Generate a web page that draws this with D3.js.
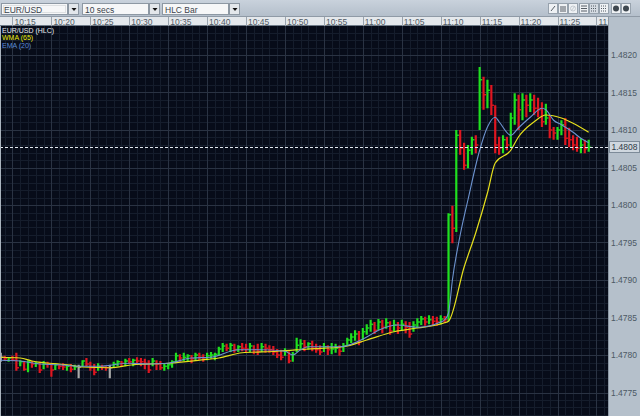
<!DOCTYPE html>
<html>
<head>
<meta charset="utf-8">
<script src="https://cdnjs.cloudflare.com/ajax/libs/d3/7.8.5/d3.min.js"></script>
<style>
  html, body { margin: 0; padding: 0; background: #bcc6d1; overflow: hidden; }
  svg { display: block; font-family: "Liberation Sans", Arial, sans-serif; }
</style>
</head>
<body>
<svg id="chart"></svg>
<script>
'use strict'

// ---- data (30 sec HLC bars) ----
const startTime = '10:13:30'
const barSecs = 30

const highs = [
  1.47803, 1.47799, 1.47797, 1.47799, 1.47803, 1.47793, 1.47792, 1.47793, 1.47792, 1.47791,
  1.47791, 1.47792, 1.47791, 1.47789, 1.47789, 1.47788, 1.47789, 1.47787, 1.47788, 1.47787,
  1.47787, 1.47793, 1.47796, 1.47791, 1.47788, 1.47789, 1.47787, 1.47785, 1.47787, 1.47791,
  1.47793, 1.47792, 1.47795, 1.47796, 1.47795, 1.47797, 1.47796, 1.47795, 1.47793, 1.47796,
  1.47793, 1.47792, 1.47788, 1.47789, 1.47793, 1.47803, 1.47801, 1.47803, 1.47801, 1.47800,
  1.47803, 1.47803, 1.47801, 1.47803, 1.47804, 1.47803, 1.47811, 1.47816, 1.47815, 1.47816,
  1.47815, 1.47813, 1.47816, 1.47815, 1.47816, 1.47813, 1.47815, 1.47816, 1.47815, 1.47813,
  1.47812, 1.47808, 1.47807, 1.47809, 1.47805, 1.47804, 1.47823, 1.47821, 1.47820, 1.47817,
  1.47819, 1.47815, 1.47813, 1.47816, 1.47813, 1.47816, 1.47815, 1.47813, 1.47816, 1.47823,
  1.47829, 1.47833, 1.47832, 1.47836, 1.47841, 1.47847, 1.47844, 1.47848, 1.47847, 1.47849,
  1.47845, 1.47847, 1.47844, 1.47847, 1.47845, 1.47844, 1.47845, 1.47849, 1.47852, 1.47851,
  1.47853, 1.47852, 1.47851, 1.47853, 1.47852, 1.47989, 1.47999, 1.48100, 1.48100, 1.48083,
  1.48080, 1.48091, 1.48093, 1.48184, 1.48171, 1.48167, 1.48160, 1.48133, 1.48091, 1.48093,
  1.48091, 1.48123, 1.48149, 1.48147, 1.48149, 1.48147, 1.48149, 1.48147, 1.48143, 1.48137,
  1.48135, 1.48120, 1.48104, 1.48104, 1.48113, 1.48116, 1.48103, 1.48093, 1.48091, 1.48089,
  1.48087, 1.48087
]
const lows = [
  1.47791, 1.47792, 1.47791, 1.47792, 1.47779, 1.47785, 1.47779, 1.47777, 1.47783, 1.47784,
  1.47776, 1.47781, 1.47783, 1.47771, 1.47780, 1.47781, 1.47780, 1.47779, 1.47777, 1.47780,
  1.47769, 1.47784, 1.47785, 1.47779, 1.47773, 1.47779, 1.47780, 1.47779, 1.47769, 1.47783,
  1.47785, 1.47784, 1.47785, 1.47788, 1.47785, 1.47788, 1.47785, 1.47781, 1.47776, 1.47785,
  1.47780, 1.47780, 1.47779, 1.47781, 1.47783, 1.47789, 1.47791, 1.47792, 1.47791, 1.47789,
  1.47792, 1.47793, 1.47791, 1.47793, 1.47795, 1.47793, 1.47799, 1.47804, 1.47805, 1.47804,
  1.47803, 1.47804, 1.47805, 1.47803, 1.47804, 1.47801, 1.47800, 1.47804, 1.47803, 1.47803,
  1.47800, 1.47796, 1.47793, 1.47799, 1.47789, 1.47791, 1.47804, 1.47807, 1.47805, 1.47807,
  1.47805, 1.47803, 1.47800, 1.47804, 1.47800, 1.47801, 1.47803, 1.47799, 1.47804, 1.47812,
  1.47816, 1.47819, 1.47813, 1.47820, 1.47827, 1.47831, 1.47828, 1.47833, 1.47829, 1.47835,
  1.47827, 1.47831, 1.47828, 1.47832, 1.47829, 1.47823, 1.47831, 1.47836, 1.47840, 1.47839,
  1.47841, 1.47840, 1.47839, 1.47841, 1.47843, 1.47845, 1.47949, 1.47964, 1.48067, 1.48047,
  1.48049, 1.48067, 1.48069, 1.48100, 1.48127, 1.48129, 1.48120, 1.48069, 1.48067, 1.48069,
  1.48073, 1.48077, 1.48107, 1.48100, 1.48113, 1.48117, 1.48124, 1.48120, 1.48117, 1.48104,
  1.48107, 1.48089, 1.48087, 1.48087, 1.48093, 1.48080, 1.48077, 1.48073, 1.48071, 1.48069,
  1.48069, 1.48071
]
const closes = [
  1.47797, 1.47795, 1.47796, 1.47793, 1.47783, 1.47791, 1.47781, 1.47791, 1.47788, 1.47789,
  1.47780, 1.47789, 1.47788, 1.47780, 1.47787, 1.47785, 1.47784, 1.47785, 1.47781, 1.47784,
  1.47784, 1.47792, 1.47788, 1.47783, 1.47777, 1.47785, 1.47784, 1.47783, 1.47783, 1.47788,
  1.47791, 1.47789, 1.47792, 1.47791, 1.47793, 1.47792, 1.47791, 1.47789, 1.47780, 1.47792,
  1.47788, 1.47783, 1.47785, 1.47787, 1.47791, 1.47799, 1.47796, 1.47797, 1.47799, 1.47795,
  1.47800, 1.47797, 1.47796, 1.47799, 1.47800, 1.47801, 1.47808, 1.47812, 1.47809, 1.47813,
  1.47807, 1.47811, 1.47809, 1.47808, 1.47812, 1.47807, 1.47805, 1.47811, 1.47809, 1.47807,
  1.47804, 1.47800, 1.47797, 1.47805, 1.47792, 1.47801, 1.47813, 1.47815, 1.47811, 1.47815,
  1.47809, 1.47807, 1.47804, 1.47811, 1.47807, 1.47808, 1.47809, 1.47805, 1.47812, 1.47820,
  1.47824, 1.47828, 1.47817, 1.47831, 1.47836, 1.47841, 1.47833, 1.47844, 1.47837, 1.47843,
  1.47832, 1.47840, 1.47836, 1.47841, 1.47837, 1.47828, 1.47840, 1.47844, 1.47848, 1.47844,
  1.47847, 1.47845, 1.47844, 1.47848, 1.47847, 1.47987, 1.47969, 1.48093, 1.48076, 1.48053,
  1.48073, 1.48087, 1.48080, 1.48167, 1.48147, 1.48153, 1.48133, 1.48080, 1.48076, 1.48087,
  1.48080, 1.48116, 1.48140, 1.48127, 1.48140, 1.48133, 1.48140, 1.48129, 1.48127, 1.48111,
  1.48116, 1.48100, 1.48096, 1.48100, 1.48107, 1.48089, 1.48087, 1.48080, 1.48076, 1.48080,
  1.48075, 1.48077
]

// indicator lines
const wmaTimes = ['10:13:30', '10:16:00', '10:17:30', '10:22:00', '10:24:00', '10:27:30', '10:30:30',
  '10:35:00', '10:39:00', '10:41:30', '10:44:30', '10:49:00', '10:53:00', '10:57:30', '11:00:30',
  '11:04:00', '11:07:00', '11:10:30', '11:11:00', '11:13:00', '11:14:30', '11:16:00', '11:17:00',
  '11:19:00', '11:20:00', '11:22:00', '11:23:30', '11:25:30', '11:27:00', '11:29:00']
const wmaValues = [1.47797, 1.47796, 1.47792, 1.47787, 1.47784, 1.47783, 1.47787,
  1.47789, 1.47793, 1.47796, 1.47803, 1.47805, 1.47808, 1.47811, 1.47820,
  1.47831, 1.47836, 1.47843, 1.47845, 1.47917, 1.47963, 1.48016, 1.48056,
  1.48073, 1.48091, 1.48111, 1.48120, 1.48116, 1.48109, 1.48097]

const emaTimes = ['10:13:30', '10:16:00', '10:18:30', '10:21:00', '10:23:30', '10:26:00', '10:30:00',
  '10:32:30', '10:35:00', '10:38:00', '10:40:30', '10:44:00', '10:47:00', '10:50:00', '10:51:00',
  '10:52:00', '10:53:00', '10:57:00', '11:00:30', '11:02:00', '11:04:30', '11:07:00', '11:10:00',
  '11:10:30', '11:11:00', '11:11:30', '11:12:30', '11:13:30', '11:15:00', '11:16:00', '11:17:00',
  '11:17:30', '11:19:00', '11:20:00', '11:21:30', '11:23:00', '11:23:30', '11:24:30', '11:25:30',
  '11:27:00', '11:28:00', '11:29:00']
const emaValues = [1.47793, 1.47792, 1.47788, 1.47787, 1.47785, 1.47785, 1.47789,
  1.47788, 1.47789, 1.47796, 1.47797, 1.47807, 1.47807, 1.47805, 1.47800,
  1.47807, 1.47811, 1.47811, 1.47824, 1.47833, 1.47840, 1.47837, 1.47844,
  1.47847, 1.47856, 1.47900, 1.47960, 1.48007, 1.48073, 1.48104, 1.48117,
  1.48111, 1.48093, 1.48103, 1.48117, 1.48129, 1.48127, 1.48113, 1.48107,
  1.48097, 1.48089, 1.48083]

const seriesNames = ['EUR/USD (HLC)', 'WMA (65)', 'EMA (20)']
const timeTicks = ['10:15', '10:20', '10:25', '10:30', '10:35', '10:40', '10:45', '10:50',
  '10:55', '11:00', '11:05', '11:10', '11:15', '11:20', '11:25', '11:30']
const priceTicks = [1.4775, 1.4780, 1.4785, 1.4790, 1.4795, 1.4800, 1.4805, 1.4810, 1.4815, 1.4820]
const comboLabels = ['EUR/USD', '10 secs', 'HLC Bar']

// ---- layout ----
const W = 640
const H = 416
const plotRight = 608
const plotTop = 26

const svg = d3.select('#chart').attr('width', W).attr('height', H)

const parseT = d3.timeParse('%H:%M:%S')
const parseHM = d3.timeParse('%H:%M')
const t0 = parseT(startTime)
const bars = closes.map((c, i) => ({
  t: d3.timeSecond.offset(t0, i * barSecs),
  h: highs[i],
  l: lows[i],
  c: c,
  prev: i > 0 ? closes[i - 1] : c
}))

const x = d3.scaleTime()
  .domain([parseT('10:13:24'), parseT('11:31:29')])
  .range([0, plotRight])
const y = d3.scaleLinear()
  .domain([1.4775, 1.4820])
  .range([392.5, 55])

// backgrounds
const defs = svg.append('defs')
const tb = defs.append('linearGradient').attr('id', 'tbg').attr('x1', 0).attr('x2', 0).attr('y1', 0).attr('y2', 1)
tb.append('stop').attr('offset', 0).attr('stop-color', '#c9d2dc')
tb.append('stop').attr('offset', 1).attr('stop-color', '#b4bfcb')
defs.append('clipPath').attr('id', 'plotclip')
  .append('rect').attr('x', 1).attr('y', plotTop).attr('width', plotRight - 1).attr('height', H - plotTop)

svg.append('rect').attr('width', W).attr('height', 16).attr('fill', 'url(#tbg)')
svg.append('rect').attr('y', 16).attr('width', W).attr('height', H - 16).attr('fill', '#b5c0cb')

// time strip
svg.append('rect').attr('x', 0).attr('y', 16).attr('width', plotRight).attr('height', 10).attr('fill', '#e4e8ec')
svg.append('line').attr('x1', 0).attr('x2', W).attr('y1', 16.5).attr('y2', 16.5).attr('stroke', '#8f9aa6')
svg.append('line').attr('x1', 0).attr('x2', plotRight).attr('y1', 25.5).attr('y2', 25.5).attr('stroke', '#6f7b88')

const timeAxis = svg.append('g').attr('clip-path', 'url(#tclip)')
defs.append('clipPath').attr('id', 'tclip')
  .append('rect').attr('x', 0).attr('y', 16).attr('width', plotRight).attr('height', 10)
timeAxis.selectAll('line.sep')
  .data(timeTicks)
  .enter()
  .append('line')
  .attr('x1', d => Math.round(x(parseHM(d))) + 0.5)
  .attr('x2', d => Math.round(x(parseHM(d))) + 0.5)
  .attr('y1', 17).attr('y2', 26)
  .attr('stroke', '#9aa4ae')
timeAxis.selectAll('text')
  .data(timeTicks)
  .enter()
  .append('text')
  .attr('x', d => x(parseHM(d)) + 2)
  .attr('y', 24.5)
  .attr('font-size', 8.5)
  .attr('fill', '#525c66')
  .text(d => d)

// plot area
svg.append('rect').attr('x', 1).attr('y', plotTop).attr('width', plotRight - 1).attr('height', H - plotTop)
  .attr('fill', '#070c19')
svg.append('line').attr('x1', 0.5).attr('x2', 0.5).attr('y1', plotTop).attr('y2', H).attr('stroke', '#aab4be')
svg.append('line').attr('x1', plotRight + 0.5).attr('x2', plotRight + 0.5).attr('y1', 16).attr('y2', H).attr('stroke', '#8c98a4')

const plot = svg.append('g').attr('clip-path', 'url(#plotclip)')

// grid
const minorT = x.ticks(d3.timeMinute.every(1))
plot.selectAll('line.vminor')
  .data(minorT)
  .enter()
  .append('line')
  .attr('x1', d => Math.round(x(d)) + 0.5)
  .attr('x2', d => Math.round(x(d)) + 0.5)
  .attr('y1', plotTop).attr('y2', H)
  .attr('stroke', '#151d2c')
const minorP = d3.range(14772, 14825).map(d => d / 10000)
plot.selectAll('line.hminor')
  .data(minorP)
  .enter()
  .append('line')
  .attr('x1', 0).attr('x2', plotRight)
  .attr('y1', d => Math.round(y(d)) + 0.5)
  .attr('y2', d => Math.round(y(d)) + 0.5)
  .attr('stroke', '#151d2c')
plot.selectAll('line.vmajor')
  .data(timeTicks)
  .enter()
  .append('line')
  .attr('x1', d => Math.round(x(parseHM(d))) + 0.5)
  .attr('x2', d => Math.round(x(parseHM(d))) + 0.5)
  .attr('y1', plotTop).attr('y2', H)
  .attr('stroke', '#2a3343')
plot.selectAll('line.hmajor')
  .data(priceTicks)
  .enter()
  .append('line')
  .attr('x1', 0).attr('x2', plotRight)
  .attr('y1', d => Math.round(y(d)) + 0.5)
  .attr('y2', d => Math.round(y(d)) + 0.5)
  .attr('stroke', '#2a3343')

// HLC bars
const barColor = d => d.c > d.prev ? '#1fe01f' : (d.c < d.prev ? '#e01620' : '#a9a9a9')
const barG = plot.append('g')
barG.selectAll('line.hl')
  .data(bars)
  .enter()
  .append('line')
  .attr('x1', d => x(d.t))
  .attr('x2', d => x(d.t))
  .attr('y1', d => y(d.h))
  .attr('y2', d => y(d.l))
  .attr('stroke', barColor)
  .attr('stroke-width', 2.2)
barG.selectAll('line.cl')
  .data(bars)
  .enter()
  .append('line')
  .attr('x1', d => x(d.t))
  .attr('x2', d => x(d.t) + 2.6)
  .attr('y1', d => y(d.c))
  .attr('y2', d => y(d.c))
  .attr('stroke', barColor)
  .attr('stroke-width', 1.4)

// indicator lines
const line = d3.line().x(d => x(d[0])).y(d => y(d[1])).curve(d3.curveMonotoneX)
plot.append('path')
  .datum(wmaTimes.map((t, i) => [parseT(t), wmaValues[i]]))
  .attr('d', line)
  .attr('fill', 'none')
  .attr('stroke', '#e6e01c')
  .attr('stroke-width', 1.2)
plot.append('path')
  .datum(emaTimes.map((t, i) => [parseT(t), emaValues[i]]))
  .attr('d', line)
  .attr('fill', 'none')
  .attr('stroke', '#6d93cf')
  .attr('stroke-width', 1.1)

// last price line
const last = closes[closes.length - 1]
plot.append('line')
  .attr('x1', 0).attr('x2', plotRight)
  .attr('y1', Math.round(y(last)) + 0.5)
  .attr('y2', Math.round(y(last)) + 0.5)
  .attr('stroke', '#dfe6ee')
  .attr('stroke-dasharray', '3,2')

// legend
const legendColors = ['#e9edf1', '#ecec10', '#5d8bd8']
svg.selectAll('text.legend')
  .data(seriesNames)
  .enter()
  .append('text')
  .attr('x', 2)
  .attr('y', (d, i) => 32.5 + i * 7.5)
  .attr('font-size', 7)
  .attr('fill', (d, i) => legendColors[i])
  .text(d => d)

// price axis
svg.selectAll('text.price')
  .data(priceTicks)
  .enter()
  .append('text')
  .attr('x', 624)
  .attr('y', d => y(d) + 3)
  .attr('text-anchor', 'middle')
  .attr('font-size', 8.5)
  .attr('fill', '#4c5864')
  .text(d => d3.format('.4f')(d))
const ly = Math.round(y(last))
svg.append('rect').attr('x', 609.5).attr('y', ly - 5.5).attr('width', 30).attr('height', 11)
  .attr('fill', '#cfd7df').attr('stroke', '#7d8b99')
svg.append('text')
  .attr('x', 624.5).attr('y', ly + 3)
  .attr('text-anchor', 'middle')
  .attr('font-size', 8.5)
  .attr('fill', '#2e3a46')
  .text(d3.format('.4f')(last))

// toolbar combos
const comboX = [1, 82, 162]
const combo = svg.selectAll('g.combo')
  .data(comboLabels)
  .enter()
  .append('g')
  .attr('transform', (d, i) => `translate(${comboX[i]},3)`)
combo.append('rect').attr('x', 0.5).attr('y', 0.5).attr('width', 66).attr('height', 11)
  .attr('fill', '#f6f7f8').attr('stroke', '#8d98a3')
combo.append('rect').attr('x', 2.5).attr('y', 2.5).attr('width', 62).attr('height', 7)
  .attr('fill', 'none').attr('stroke', '#c4c8cc').attr('stroke-dasharray', '1,1')
  .attr('opacity', (d, i) => i === 0 ? 1 : 0)
combo.append('text').attr('x', 3).attr('y', 9.5).attr('font-size', 8.5).attr('fill', '#3a434c').text(d => d)
combo.append('rect').attr('x', 67.5).attr('y', 0.5).attr('width', 10).attr('height', 11)
  .attr('fill', '#e3e7eb').attr('stroke', '#8d98a3')
combo.append('path').attr('d', 'M70.5,5 L75.5,5 L73,8 Z').attr('fill', '#111')

// toolbar icons
const iconX = [548, 558, 568, 579, 589, 599, 611, 621]
const icons = svg.selectAll('g.icon')
  .data(iconX)
  .enter()
  .append('g')
  .attr('transform', d => `translate(${d},3)`)
icons.append('rect').attr('x', 0.5).attr('y', 0.5).attr('width', 9).attr('height', 10)
  .attr('fill', (d, i) => i === 4 ? '#d5dbe2' : '#eef1f4').attr('stroke', '#97a2ad')
icons.append('path')
  .attr('d', (d, i) => [
    'M3,8 L7,3',
    'M2,4 H8 M2,6 H8 M2,8 H8',
    'M3,8 L7,3 M5,5.5 m-2.5,0 a2.5,2.5 0 1,0 5,0 a2.5,2.5 0 1,0 -5,0',
    'M2,3 H8 M2,5.5 H8 M2,8 H8',
    'M2,3 H8 M2,5.5 H8 M2,8 H8',
    'M2,3 H8 M2,5.5 H8 M2,8 H8',
    '',
    ''][i])
  .attr('stroke', (d, i) => i === 2 ? '#c0c6cc' : '#444c55')
  .attr('stroke-width', 0.9)
  .attr('fill', 'none')
  .attr('stroke-dasharray', (d, i) => i >= 4 ? '1,1' : null)
icons.filter((d, i) => i >= 6).append('circle')
  .attr('cx', 5).attr('cy', 5.5).attr('r', 3)
  .attr('fill', '#3f4850')
</script>
</body>
</html>
